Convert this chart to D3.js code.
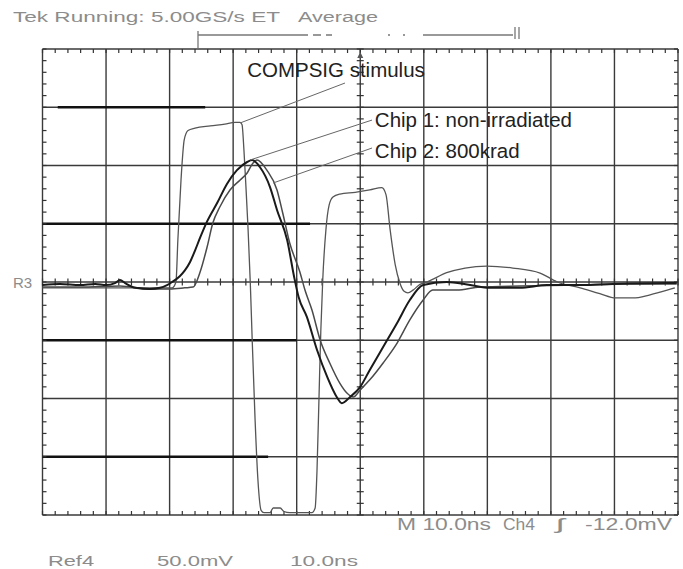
<!DOCTYPE html>
<html><head><meta charset="utf-8">
<script src="https://cdn.jsdelivr.net/npm/d3@7"></script>
<style>
html,body{margin:0;padding:0;background:#fff;}
svg{display:block;}
</style></head>
<body>
<svg id="c" width="683" height="569"></svg>
<script>
// ---- DATA (time in ns, amplitude in mV; 10 ns/div, 50 mV/div) ----
const timeTicks = [0,10,20,30,40,50,60,70,80,90,100];
const voltTicks = [-200,-150,-100,-50,0,50,100,150,200];

const stimulusT = [0,9,17,20.4,21.0,21.3,21.8,22.3,22.9,24.0,26.4,28.7,30.3,31.1,31.4,31.7,32.0,32.35,32.7,33.0,33.45,33.9,34.4,34.85,35.8,36.3,37.4,38.0,38.9,42.4,42.9,43.2,43.5,43.8,44.1,44.6,45.1,45.7,46.8,49.2,51.5,53.4,54.05,54.7,55.5,56.25,56.9,57.5,58.3,59.4,60.5,63.6,66.5,69.9,74.0,78.3,81.0,84.6,87.7,90.2,92.9,95.6,98.3,99.5];
const stimulusV = [-5,-5,-5,-5,0,36,88,122,130,132,134,135.6,137,137,135,113,83,45,-1,-50,-118,-170,-196,-198,-198,-194,-194,-197,-198,-198,-194,-161,-101,-41,2,45,66,73,75.5,77,79,81,75,45,15,-1,-8,-9.4,-7,-2,0,8,12,13.7,12,7.7,0,-5,-10,-13.7,-13.7,-11,-7,-5];

const chip1T = [0,2.75,5.9,8.3,10,11.4,12.2,13,14.6,16.9,18.5,19.6,20.4,21.6,22.4,23.2,24,24.8,25.9,27.5,29,30.6,32.2,33,34.2,35.8,36.9,38.5,39.6,40.3,41.6,43.2,44.8,46.3,47.1,48.4,50,51.5,53.6,55.8,57.8,59.9,63.6,67.3,70.4,75.1,79.4,84.6,89.8,98.3,99.8];
const chip1V = [-2.6,-1.7,-2.6,-1.7,-2.6,-0.9,1.7,-0.9,-5,-6,-5,-2.6,0,5,10,17,27,38,52,68,84,96,103,104.7,98.7,81.5,61.8,36,4.3,-12.9,-30,-58.4,-81.5,-98.7,-104,-98.7,-90,-75.5,-55.8,-35.2,-15.5,-2.6,0,-2.6,-5,-5,-2.6,-2.6,-1.7,-0.9,-0.9];

const chip2T = [0,5.9,12.2,16.9,20,22.4,23.7,24.8,25.9,26.8,27.9,29.5,31.1,32.2,33.1,33.75,35.3,36.9,37.8,38.9,40.5,41.3,42.4,43.7,45.2,46.8,47.9,48.9,50,51.5,53.6,55.8,57.8,59.9,61.4,65.2,68.8,75.1,84.6,90.9,99.8];
const chip2V = [-4.3,-4.3,-3.4,-6,-6,-5,-4.3,8.6,30,50.6,64.4,79,87.6,93.6,102,104.7,96,79,59.2,33.5,8.6,-6.9,-24,-50,-69.5,-87,-95.3,-98.7,-92.7,-84,-69.5,-52.4,-32.6,-15.5,-6.9,-6.9,-4.3,-3.4,-2.6,-1.7,-1.7];

const labels = ["COMPSIG stimulus","Chip 1: non-irradiated","Chip 2: 800krad"];
const labelPos = [[32.2,176],[52.3,133],[52.3,106.4]];
const leaderFrom = [[47.6,170.8],[51.85,139],[51.85,115]];
const leaderTo = [[31.1,136.5],[32.65,104.7],[36.3,85]];

// thick segments of graticule lines [mV level, t start, t end]
const thickGrid = [[150,2.4,25.6],[50,0,42.1],[-50,0,40],[-150,0,35.5]];

const headerText = ["Tek Running: 5.00GS/s ET","Average"];
const footerText = ["Ref4","50.0mV","10.0ns"];
const statusText = ["M 10.0ns","Ch4","\u0283","-12.0mV"];

// ---- DRAW ----
const svg = d3.select("#c");
const x = d3.scaleLinear().domain([0,100]).range([42.5,678]);
const y = d3.scaleLinear().domain([-200,200]).range([515,49]);

const g = svg.append("g");
// grid
g.selectAll(".vg").data(timeTicks).join("line")
  .attr("x1",d=>x(d)).attr("x2",d=>x(d)).attr("y1",y(200)).attr("y2",y(-200))
  .attr("stroke","#3a3a3a").attr("stroke-width",1.4);
g.selectAll(".hg").data(voltTicks).join("line")
  .attr("y1",d=>y(d)).attr("y2",d=>y(d)).attr("x1",x(0)).attr("x2",x(100))
  .attr("stroke","#3a3a3a").attr("stroke-width",1.4);
g.selectAll(".tg").data(thickGrid).join("line")
  .attr("y1",d=>y(d[0])).attr("y2",d=>y(d[0])).attr("x1",d=>x(d[1])).attr("x2",d=>x(d[2]))
  .attr("stroke","#111").attr("stroke-width",2.4);

// minor ticks
const minorT = d3.range(0,100.01,2);
const minorV = d3.range(-200,200.01,10);
const tickCol="#333";
g.selectAll(".mt1").data(minorT).join("line") // centre horizontal
  .attr("x1",d=>x(d)).attr("x2",d=>x(d)).attr("y1",y(0)-3.5).attr("y2",y(0)+3.5)
  .attr("stroke",tickCol).attr("stroke-width",1.2);
g.selectAll(".mt2").data(minorV).join("line") // centre vertical
  .attr("y1",d=>y(d)).attr("y2",d=>y(d)).attr("x1",x(50)-3.5).attr("x2",x(50)+3.5)
  .attr("stroke",tickCol).attr("stroke-width",1.2);
g.selectAll(".mt3").data(minorT).join("line") // top edge
  .attr("x1",d=>x(d)).attr("x2",d=>x(d)).attr("y1",y(200)).attr("y2",y(200)+4)
  .attr("stroke",tickCol).attr("stroke-width",1.2);
g.selectAll(".mt4").data(minorT).join("line") // bottom edge
  .attr("x1",d=>x(d)).attr("x2",d=>x(d)).attr("y1",y(-200)).attr("y2",y(-200)-4)
  .attr("stroke",tickCol).attr("stroke-width",1.2);
g.selectAll(".mt5").data(minorV).join("line") // left edge
  .attr("y1",d=>y(d)).attr("y2",d=>y(d)).attr("x1",x(0)).attr("x2",x(0)+4)
  .attr("stroke",tickCol).attr("stroke-width",1.2);
g.selectAll(".mt6").data(minorV).join("line") // right edge
  .attr("y1",d=>y(d)).attr("y2",d=>y(d)).attr("x1",x(100)).attr("x2",x(100)-4)
  .attr("stroke",tickCol).attr("stroke-width",1.2);

// trigger marker at top centre
g.append("path").attr("d",`M${x(50)},${y(200)+3} l-3,6 l6,0 z`).attr("fill","#555");

// traces
const line = d3.line().x(d=>x(d[0])).y(d=>y(d[1])).curve(d3.curveMonotoneX);
const zip = (a,b)=>a.map((v,i)=>[v,b[i]]);
g.append("path").datum(zip(stimulusT,stimulusV)).attr("d",line)
  .attr("fill","none").attr("stroke","#555").attr("stroke-width",1.3);
g.append("path").datum(zip(chip2T,chip2V)).attr("d",line)
  .attr("fill","none").attr("stroke","#4a4a4a").attr("stroke-width",1.5);
g.append("path").datum(zip(chip1T,chip1V)).attr("d",line)
  .attr("fill","none").attr("stroke","#1a1a1a").attr("stroke-width",2);

// leaders and labels
g.selectAll(".ld").data(leaderFrom).join("line")
  .attr("x1",d=>x(d[0])).attr("y1",d=>y(d[1]))
  .attr("x2",(d,i)=>x(leaderTo[i][0])).attr("y2",(d,i)=>y(leaderTo[i][1]))
  .attr("stroke","#666").attr("stroke-width",1);
g.selectAll(".lb").data(labels).join("text")
  .attr("x",(d,i)=>x(labelPos[i][0])).attr("y",(d,i)=>y(labelPos[i][1]))
  .attr("font-family","Liberation Sans, Arial, sans-serif").attr("font-size",20.5)
  .attr("fill","#222").text(d=>d);

// scope status texts
const sf = "Liberation Sans, Arial, sans-serif", sc="#8c8c8c";
function st(t,xx,yy,len,fs){
  svg.append("text").attr("x",xx).attr("y",yy).attr("font-family",sf).attr("font-size",fs)
    .attr("fill",sc).attr("textLength",len).attr("lengthAdjust","spacingAndGlyphs").text(t);
}
st(headerText[0],13,22,267,14);
st(headerText[1],298,22,80,14);
st(footerText[0],48,566,46,15);
st(footerText[1],157,566,76,15);
st(footerText[2],290,566,68,15);
st(statusText[0],397,530,94,16);
st(statusText[1],503,530,32,16);
st(statusText[2],556,530,8,16);
st(statusText[3],585,530,87,16);
svg.append("text").attr("x",13).attr("y",y(0)+6).attr("font-family",sf).attr("font-size",15)
  .attr("fill",sc).text("R3");

// trigger bar at top
const tb = svg.append("g").attr("stroke","#777").attr("stroke-width",1.3);
tb.append("line").attr("x1",198).attr("x2",198).attr("y1",31).attr("y2",48);
tb.append("line").attr("x1",198).attr("x2",300).attr("y1",35).attr("y2",35);
tb.append("line").attr("x1",300).attr("x2",332).attr("y1",35).attr("y2",35).attr("stroke-dasharray","8,5");
tb.append("line").attr("x1",388).attr("x2",407).attr("y1",35).attr("y2",35).attr("stroke-dasharray","2,13");
tb.append("line").attr("x1",423).attr("x2",513).attr("y1",35).attr("y2",35);
tb.append("line").attr("x1",515).attr("x2",515).attr("y1",27).attr("y2",39);
tb.append("line").attr("x1",519).attr("x2",519).attr("y1",27).attr("y2",39);
</script>
</body></html>
